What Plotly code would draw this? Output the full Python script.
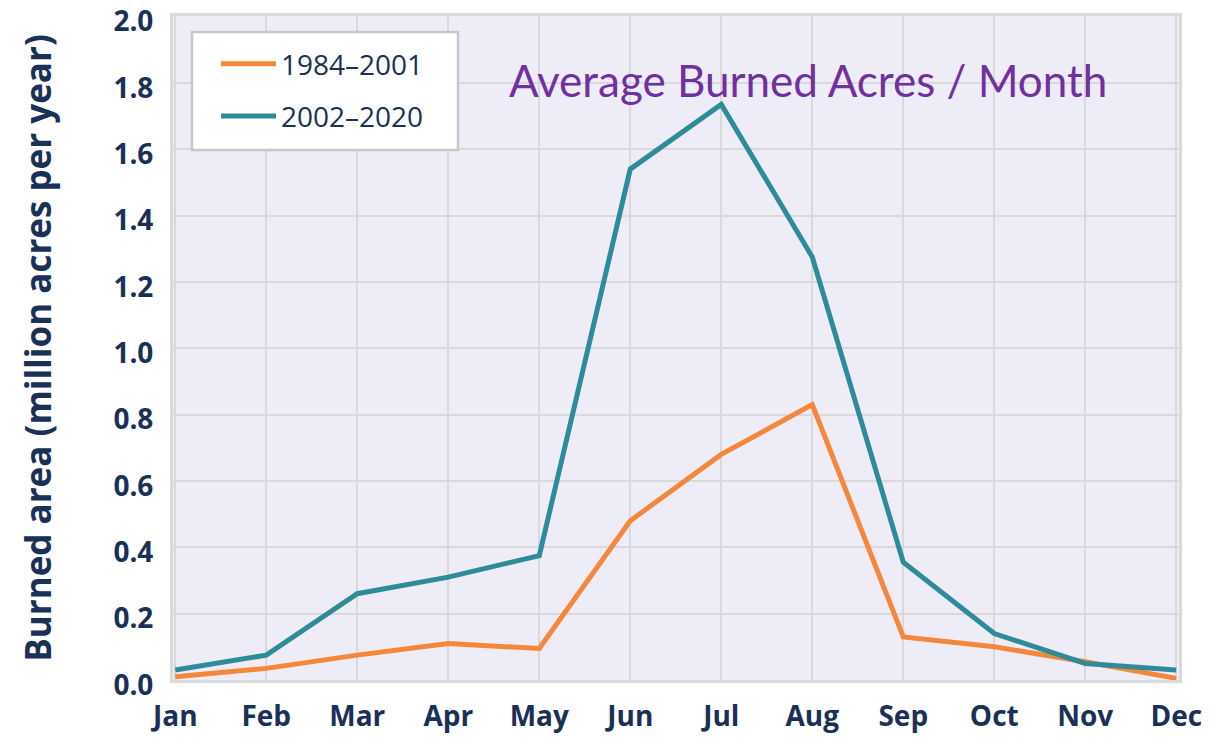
import plotly.graph_objects as go

months = ["Jan", "Feb", "Mar", "Apr", "May", "Jun", "Jul", "Aug", "Sep", "Oct", "Nov", "Dec"]
series_1984_2001 = [0.01, 0.035, 0.075, 0.11, 0.095, 0.48, 0.68, 0.83, 0.13, 0.10, 0.055, 0.005]
series_2002_2020 = [0.03, 0.075, 0.26, 0.31, 0.375, 1.54, 1.735, 1.275, 0.355, 0.14, 0.05, 0.03]
y_ticks = [0.0, 0.2, 0.4, 0.6, 0.8, 1.0, 1.2, 1.4, 1.6, 1.8, 2.0]

navy = "#1b3057"
grid = "#d9d9d9"

W, H = 1209, 738
L, R, T, B = 173, 30, 16, 58
pw = W - L - R
ph = H - T - B


def px(xpage):
    return (xpage - L) / pw


def py(ypage):
    return 1 - (ypage - T) / ph


fig = go.Figure()
fig.add_trace(go.Scatter(x=list(range(12)), y=series_1984_2001, mode="lines",
                         name="1984–2001", legendgroup="a",
                         line=dict(color="#f5873a", width=5)))
fig.add_trace(go.Scatter(x=list(range(12)), y=series_2002_2020, mode="lines",
                         name="2002–2020", legendgroup="b",
                         line=dict(color="#2e8c9a", width=5)))

# legend frame
fig.add_shape(type="rect", xref="paper", yref="paper",
              x0=px(192), x1=px(458), y0=py(150), y1=py(32),
              fillcolor="white", line=dict(color="#c8c8c8", width=2.5), layer="above")

fig.update_layout(
    width=W, height=H,
    margin=dict(l=L, r=R, t=T, b=B, autoexpand=False),
    paper_bgcolor="white",
    plot_bgcolor="#eeecf6",
    showlegend=True,
    legend=dict(x=px(216), y=py(39), xanchor="left", yanchor="top",
                bgcolor="rgba(0,0,0,0)", borderwidth=0,
                font=dict(family="Open Sans", size=28, color=navy),
                itemwidth=55, tracegroupgap=13),
    xaxis=dict(range=[-0.025, 11.03], tickmode="array", tickvals=list(range(12)), ticktext=months,
               showgrid=True, gridcolor=grid, gridwidth=2, zeroline=False,
               showline=True, linecolor=grid, linewidth=3, mirror=True,
               tickfont=dict(family="Open Sans", size=28, color=navy, weight="bold"),
               ticks="", ticklabelstandoff=9, ticklabeloverflow="allow"),
    yaxis=dict(range=[0, 2.0015], tickmode="array", tickvals=y_ticks,
               ticktext=[f"{v:.1f}" for v in y_ticks],
               showgrid=True, gridcolor=grid, gridwidth=2, zeroline=False,
               showline=True, linecolor=grid, linewidth=3, mirror=True,
               tickfont=dict(family="Open Sans", size=28, color=navy, weight="bold"),
               ticks="", ticklabelstandoff=11, ticklabelshift=5, ticklabeloverflow="allow",
               title=dict(text="Burned area (million acres per year)",
                          font=dict(family="Open Sans", size=35, color=navy, weight="bold"),
                          standoff=52)),
)
fig.add_annotation(text="Average Burned Acres / Month",
                   x=px(808), y=py(80),
                   xref="paper", yref="paper", showarrow=False, xanchor="center", yanchor="middle",
                   font=dict(family="Lato", size=44, color="#7030a0"))

fig.write_html("out.html", config={"displayModeBar": False},
               post_script="document.body.style.margin='0';")
